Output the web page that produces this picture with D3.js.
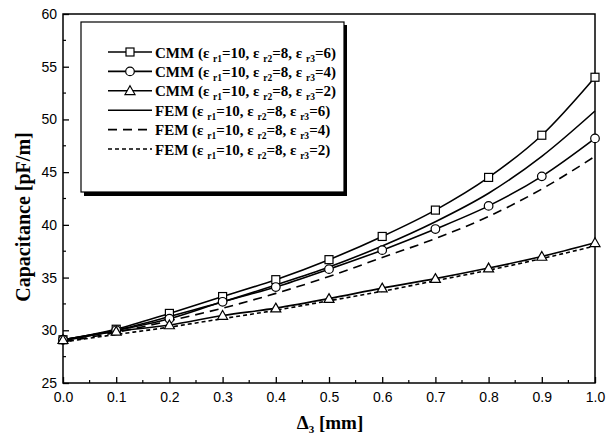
<!DOCTYPE html>
<html lang = 'en'>
    <head>
        <meta charset = 'UTF-8'>
        <title>Capacitance vs Delta3</title>
        <script src="https://d3js.org/d3.v7.min.js"></script>
        <style>
            body {
                margin: 0;
                background-color: white;
            }
            .serif_bold {
                font-family: 'Liberation Serif', 'Times New Roman', serif;
                font-weight: bold;
            }
        </style>
    </head>
    <body>
        <svg id = 'chart' width = '615' height = '444'></svg>
        <script>
            // data
            let delta3 = [0.0, 0.1, 0.2, 0.3, 0.4, 0.5, 0.6, 0.7, 0.8, 0.9, 1.0]
            let cmm6 = [29.1, 30.1, 31.6, 33.2, 34.8, 36.7, 38.9, 41.4, 44.5, 48.5, 54.0]
            let cmm4 = [29.1, 30.0, 31.1, 32.7, 34.1, 35.8, 37.6, 39.6, 41.8, 44.6, 48.2]
            let cmm2 = [29.1, 29.9, 30.5, 31.4, 32.1, 33.0, 34.0, 34.9, 35.9, 37.0, 38.3]
            let fem6 = [29.0, 30.0, 31.3, 32.7, 34.3, 36.0, 38.0, 40.3, 43.0, 46.5, 50.8]
            let fem4 = [28.9, 29.8, 30.9, 32.1, 33.5, 35.1, 36.9, 38.7, 40.8, 43.4, 46.5]
            let fem2 = [28.9, 29.6, 30.3, 31.1, 31.9, 32.8, 33.7, 34.7, 35.7, 36.8, 38.0]
            let xTicks = [0.0, 0.1, 0.2, 0.3, 0.4, 0.5, 0.6, 0.7, 0.8, 0.9, 1.0]
            let yTicks = [25, 30, 35, 40, 45, 50, 55, 60]
            let series = [
                {method: 'CMM', e3: '6', values: cmm6, marker: 'square', dash: null},
                {method: 'CMM', e3: '4', values: cmm4, marker: 'circle', dash: null},
                {method: 'CMM', e3: '2', values: cmm2, marker: 'triangle', dash: null},
                {method: 'FEM', e3: '6', values: fem6, marker: null, dash: null},
                {method: 'FEM', e3: '4', values: fem4, marker: null, dash: '9,6'},
                {method: 'FEM', e3: '2', values: fem2, marker: null, dash: '4,3'}
            ]

            let svg = d3.select('#chart')
            let plotL = 63, plotR = 595, plotT = 14, plotB = 383

            let x = d3.scaleLinear().domain([0, 1]).range([plotL, plotR])
            let y = d3.scaleLinear().domain([25, 60]).range([plotB, plotT])

            // frame
            svg.append('rect')
                .attr('x', plotL).attr('y', plotT)
                .attr('width', plotR - plotL).attr('height', plotB - plotT)
                .attr('fill', 'none').attr('stroke', 'black').attr('stroke-width', 1.5)

            // axes, ticks inward
            let xAxis = d3.axisBottom(x).tickValues(xTicks).tickSizeInner(-6).tickSizeOuter(0)
                .tickPadding(9).tickFormat(d3.format('.1f'))
            let gx = svg.append('g').attr('transform', `translate(0,${plotB})`).call(xAxis)
            let yAxis = d3.axisLeft(y).tickValues(yTicks).tickSizeInner(-6).tickSizeOuter(0)
                .tickPadding(6)
            let gy = svg.append('g').attr('transform', `translate(${plotL},0)`).call(yAxis)
            ;[gx, gy].forEach(g => {
                g.select('.domain').remove()
                g.selectAll('line').attr('stroke-width', 1.3)
                g.selectAll('text').attr('fill', 'black')
                    .style('font-size', '14px').style('font-family', "'Liberation Sans', Arial, sans-serif")
            })
            // minor ticks
            let xMinor = d3.range(0.05, 1, 0.1)
            svg.append('g').selectAll('line').data(xMinor).enter().append('line')
                .attr('x1', d => x(d)).attr('x2', d => x(d))
                .attr('y1', plotB).attr('y2', plotB - 3)
                .attr('stroke', 'black').attr('stroke-width', 1.2)
            let yMinor = d3.range(27.5, 60, 5)
            svg.append('g').selectAll('line').data(yMinor).enter().append('line')
                .attr('x1', plotL).attr('x2', plotL + 3)
                .attr('y1', d => y(d)).attr('y2', d => y(d))
                .attr('stroke', 'black').attr('stroke-width', 1.2)

            // axis titles
            let xTitle = svg.append('text').attr('class', 'serif_bold')
                .attr('x', 330).attr('y', 429).attr('text-anchor', 'middle')
                .style('font-size', '19px')
            xTitle.append('tspan').text('\u0394')
            xTitle.append('tspan').attr('dy', 4).style('font-size', '11px').text('3')
            xTitle.append('tspan').attr('dy', -4).text(' [mm]')

            svg.append('text').attr('class', 'serif_bold')
                .attr('transform', 'translate(30,217) rotate(-90)')
                .attr('text-anchor', 'middle')
                .style('font-size', '20px')
                .text('Capacitance [pF/m]')

            // curves
            let line = d3.line()
                .x((d, i) => x(delta3[i]))
                .y(d => y(d))
                .curve(d3.curveMonotoneX)

            function drawMarker(g, type, cx, cy) {
                if (type == 'square') {
                    g.append('rect').attr('x', cx - 4).attr('y', cy - 4)
                        .attr('width', 8).attr('height', 8)
                        .attr('fill', 'white').attr('stroke', 'black').attr('stroke-width', 1.2)
                } else if (type == 'circle') {
                    g.append('circle').attr('cx', cx).attr('cy', cy).attr('r', 4.3)
                        .attr('fill', 'white').attr('stroke', 'black').attr('stroke-width', 1.2)
                } else if (type == 'triangle') {
                    let s = 5
                    g.append('path')
                        .attr('d', `M${cx},${cy - s}L${cx + s},${cy + s * 0.75}L${cx - s},${cy + s * 0.75}Z`)
                        .attr('fill', 'white').attr('stroke', 'black').attr('stroke-width', 1.2)
                }
            }

            let plot = svg.append('g')
            series.slice().reverse().forEach(s => {
                plot.append('path')
                    .attr('d', line(s.values))
                    .attr('fill', 'none')
                    .attr('stroke', 'black')
                    .attr('stroke-width', 1.6)
                    .attr('stroke-dasharray', s.dash)
            })
            series.forEach(s => {
                if (!s.marker) return
                s.values.forEach((v, i) => drawMarker(plot, s.marker, x(delta3[i]), y(v)))
            })

            // legend
            let lg = svg.append('g')
            let lx = 81, ly = 22, lw = 263, lh = 170
            lg.append('rect').attr('x', lx + 3).attr('y', ly + 3)
                .attr('width', lw).attr('height', lh + 1).attr('fill', 'black')
            lg.append('rect').attr('x', lx).attr('y', ly)
                .attr('width', lw).attr('height', lh)
                .attr('fill', 'white').attr('stroke', 'black').attr('stroke-width', 1.2)

            series.forEach((s, i) => {
                let ry = 52 + i * 19.4
                lg.append('line').attr('x1', 108).attr('x2', 152)
                    .attr('y1', ry).attr('y2', ry)
                    .attr('stroke', 'black').attr('stroke-width', 1.6)
                    .attr('stroke-dasharray', s.dash)
                if (s.marker) drawMarker(lg, s.marker, 130, ry)
                let t = lg.append('text').attr('class', 'serif_bold')
                    .attr('x', 155).attr('y', ry + 5.5)
                    .style('font-size', '15px')
                let parts = [['r1', '10'], ['r2', '8'], ['r3', s.e3]]
                t.append('tspan').text(s.method + ' (')
                parts.forEach((p, k) => {
                    t.append('tspan').text('\u03b5 ')
                    t.append('tspan').attr('dy', 4).style('font-size', '9.5px').text(p[0])
                    t.append('tspan').attr('dy', -4).text('=' + p[1] + (k < 2 ? ', ' : ')'))
                })
            })
        </script>
    </body>
</html>
